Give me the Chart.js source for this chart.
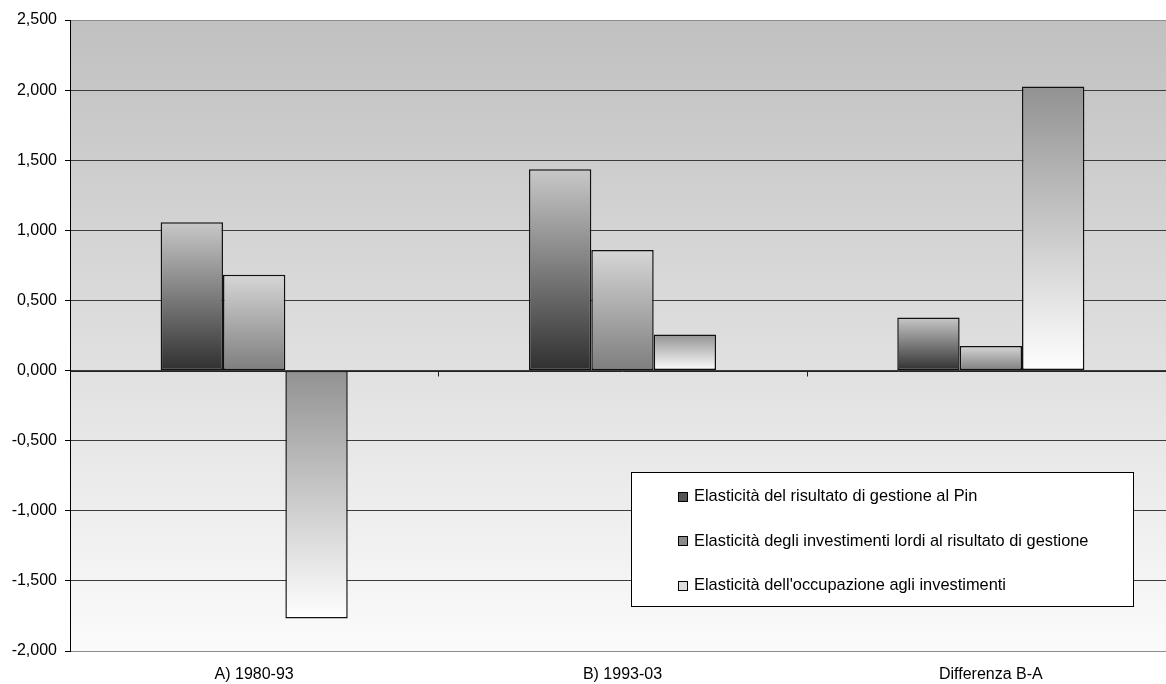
<!DOCTYPE html>
<html>
<head>
<meta charset="utf-8">
<script src="https://cdn.jsdelivr.net/npm/chart.js@4.4.0/dist/chart.umd.min.js"></script>
<style>
    html, body { margin: 0; padding: 0; background: #ffffff; overflow: hidden; }
    /* plot area runs a little past the right edge of the window */
    #wrap { width: 1175px; height: 684px; }
</style>
</head>
<body>
<div id="wrap"><canvas id="elasticityChart"></canvas></div>
<script>
// Categories and series
const categories = ['A) 1980-93', 'B) 1993-03', 'Differenza B-A'];
const seriesNames = [
    'Elasticità del risultato di gestione al Pin',
    'Elasticità degli investimenti lordi al risultato di gestione',
    "Elasticità dell'occupazione agli investimenti"
];
const risultatoPin = [1.057, 1.436, 0.379];
const investimentiRisultato = [0.683, 0.859, 0.176];
const occupazioneInvestimenti = [-1.769, 0.257, 2.026];
const yTicks = [2.5, 2.0, 1.5, 1.0, 0.5, 0.0, -0.5, -1.0, -1.5, -2.0];

// gradient colours per series: [top, bottom] of the bar
const barShades = [
    ['#c8c8c8', '#303030'],
    ['#d6d6d6', '#7e7e7e'],
    ['#929292', '#ffffff']
];
const legendSwatch = ['#555555', '#8a8a8a', '#dddddd'];
const FONT = '"Liberation Sans", Arial, sans-serif';

function formatTick(v) {
    return v.toFixed(3).replace('.', ',');
}

function barGradient(idx) {
    return function(context) {
        const chart = context.chart;
        const yScale = chart.scales.y;
        if (!chart.chartArea || !yScale || !context.parsed) return barShades[idx][0];
        const pv = yScale.getPixelForValue(context.parsed.y);
        const p0 = yScale.getPixelForValue(0);
        const top = Math.min(pv, p0);
        const bottom = Math.max(pv, p0);
        if (bottom - top < 1) return barShades[idx][1];
        const g = chart.ctx.createLinearGradient(0, top, 0, bottom);
        g.addColorStop(0, barShades[idx][0]);
        g.addColorStop(1, barShades[idx][1]);
        return g;
    };
}

// plot area background, zero line with ticks, legend box
const decorPlugin = {
    id: 'decor',
    beforeDraw(chart) {
        const { ctx, chartArea } = chart;
        const g = ctx.createLinearGradient(0, chartArea.top, 0, chartArea.bottom);
        g.addColorStop(0, '#c0c0c0');
        g.addColorStop(1, '#fbfbfb');
        ctx.save();
        ctx.fillStyle = g;
        ctx.fillRect(chartArea.left, chartArea.top, chartArea.right - chartArea.left, chartArea.bottom - chartArea.top);
        ctx.restore();
    },
    afterDatasetsDraw(chart) {
        const { ctx, chartArea, scales } = chart;
        const y0 = Math.round(scales.y.getPixelForValue(0)) + 0.5;
        ctx.save();
        ctx.strokeStyle = '#222222';
        ctx.lineWidth = 1;
        ctx.beginPath();
        ctx.moveTo(chartArea.left, y0);
        ctx.lineTo(chartArea.right, y0);
        const step = (chartArea.right - chartArea.left) / categories.length;
        for (let i = 1; i < categories.length; i++) {
            const x = Math.round(chartArea.left + step * i) + 0.5;
            ctx.moveTo(x, y0);
            ctx.lineTo(x, y0 + 5);
        }
        ctx.stroke();

        // legend
        const bx = 631.5, by = 472.5, bw = 502, bh = 134;
        ctx.fillStyle = '#ffffff';
        ctx.fillRect(bx, by, bw, bh);
        ctx.strokeStyle = '#000000';
        ctx.strokeRect(bx, by, bw, bh);
        ctx.font = '16.4px ' + FONT;
        ctx.textBaseline = 'middle';
        chart.data.datasets.forEach((ds, i) => {
            const cy = by + 24 + i * 44.5;
            ctx.fillStyle = legendSwatch[i];
            ctx.fillRect(678.5, Math.round(cy) - 4.5, 9, 9);
            ctx.strokeStyle = '#000000';
            ctx.strokeRect(678.5, Math.round(cy) - 4.5, 9, 9);
            ctx.fillStyle = '#000000';
            ctx.fillText(ds.label, 694, cy);
        });
        ctx.restore();
    }
};

document.addEventListener('DOMContentLoaded', function() {
    const ctx = document.getElementById('elasticityChart');
    const seriesValues = [risultatoPin, investimentiRisultato, occupazioneInvestimenti];

    new Chart(ctx, {
        type: 'bar',
        data: {
            labels: categories,
            datasets: seriesValues.map((vals, i) => ({
                label: seriesNames[i],
                data: vals,
                backgroundColor: barGradient(i),
                borderColor: '#111111',
                borderWidth: 1.5,
                borderSkipped: false,
                barPercentage: 1.0,
                categoryPercentage: 0.508
            }))
        },
        options: {
            responsive: true,
            maintainAspectRatio: false,
            animation: false,
            layout: { padding: { top: 20, right: 0, left: 0, bottom: 0 } },
            plugins: {
                legend: { display: false },
                tooltip: { enabled: false }
            },
            scales: {
                x: {
                    grid: { display: false, drawTicks: false },
                    border: { display: false },
                    ticks: {
                        color: '#000000',
                        font: { family: FONT, size: 16 },
                        padding: 14
                    },
                    afterFit(scale) { scale.height = 33; }
                },
                y: {
                    min: -2,
                    max: 2.5,
                    afterBuildTicks(scale) {
                        scale.ticks = yTicks.map(v => ({ value: v }));
                    },
                    grid: {
                        color(c) {
                            if (c.tick && (c.tick.value === 2.5 || c.tick.value === -2)) return '#8c8c8c';
                            return '#3c3c3c';
                        },
                        lineWidth: 1,
                        tickLength: 5,
                        tickColor: '#000000'
                    },
                    border: { display: true, color: '#000000', width: 1 },
                    ticks: {
                        color: '#000000',
                        font: { family: FONT, size: 16 },
                        padding: 8,
                        callback: v => formatTick(v)
                    },
                    afterFit(scale) { scale.width = 70; }
                }
            }
        },
        plugins: [decorPlugin]
    });
});
</script>
</body>
</html>
